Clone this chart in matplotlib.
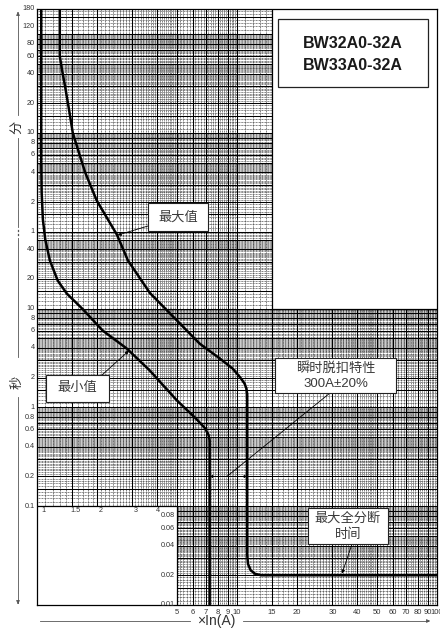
import numpy as np
import matplotlib
matplotlib.use("Agg")
import matplotlib.pyplot as plt
from matplotlib.patches import Rectangle
from matplotlib.collections import LineCollection
import matplotlib.transforms as mtransforms

plt.rcParams['font.family'] = ['Liberation Sans', 'Noto Sans CJK SC', 'DejaVu Sans']

# ---------------- data ----------------
# minimum tripping curve (multiple of In, seconds)
min_x = [1.05, 1.05, 1.055, 1.07, 1.10, 1.16, 1.27, 1.41, 1.70, 2.13, 2.81, 3.66, 5.0, 6.2, 6.9, 7.2, 7.3, 7.3]
min_t = [10800, 300, 150, 80, 50, 30.7, 19.2, 14.2, 9.8, 6.0, 3.95, 2.37, 1.18, 0.78, 0.62, 0.53, 0.46, 0.01]
# maximum tripping curve
max_x = [1.30, 1.30, 1.33, 1.38, 1.45, 1.51, 1.74, 1.99, 2.51, 2.85, 3.67, 6.5, 8.2, 9.5, 10.4, 10.9, 11.15, 11.25,
         11.25, 11.35, 11.7, 12.3, 13.2, 100]
max_t = [10800, 3600, 2700, 1800, 1000, 600, 240, 124, 56, 30.7, 14.4, 4.43, 3.13, 2.48, 2.0, 1.75, 1.55, 1.35,
         0.032, 0.026, 0.0225, 0.0207, 0.02, 0.02]

ylab_min = [180, 120, 80, 60, 40, 20, 10, 8, 6, 4, 2, 1]           # minutes
ylab_sec = [40, 20, 10, 8, 6, 4, 2, 1, 0.8, 0.6, 0.4, 0.2, 0.1]    # seconds
ylab_inner = [0.08, 0.06, 0.04, 0.02, 0.01]                         # seconds
xlab_inner = [1, 1.5, 2, 3, 4]
xlab_bottom = [5, 6, 7, 8, 9, 10, 15, 20, 30, 40, 50, 60, 70, 80, 90, 100]

title_lines = ["BW32A0-32A", "BW33A0-32A"]
inst_trip = (7.3, 11.25, 0.2)   # instantaneous trip band 300A±20% at 0.2 s

# ---------------- figure ----------------
W, H = 440, 631
fig = plt.figure(figsize=(W / 100, H / 100), dpi=100)
ax = fig.add_axes([37 / W, 1 - 605 / H, 400 / W, 596 / H])
ax.set_xscale('log')
ax.set_yscale('log')
ax.set_xlim(1, 100)
ax.set_ylim(0.01, 10800)
ax.set_xticks([]); ax.set_yticks([])
ax.minorticks_off()
ax.tick_params(which='both', length=0, labelleft=False, labelbottom=False)
for s in ax.spines.values():
    s.set_linewidth(0.9)
    s.set_color('black')

def P(x, y):
    return (x / W, 1 - y / H)

# graph paper grid
majm = [1, 1.5, 2, 3, 4, 5, 6, 7, 8, 9]
minm = [round(v, 2) for v in list(np.arange(1, 5, 0.1)) + list(np.arange(5, 10, 0.2))]
minm = [v for v in minm if not any(abs(v - m) < 1e-6 for m in majm)]

def vals(decades, mant, lo, hi):
    out = []
    for d in decades:
        for m in mant:
            v = d * m
            if lo < v < hi:
                out.append(v)
    return out

xmaj = vals([1, 10], majm, 1, 100)
xmin = vals([1, 10], minm, 1, 100)
ymaj = vals([0.01, 0.1, 1, 10], majm, 0.01, 60.01) + [60 * v for v in vals([1, 10, 100], majm, 1, 180)]
ymin = vals([0.01, 0.1, 1, 10], minm, 0.01, 60) + [60 * v for v in vals([1, 10, 100], minm, 1, 180)]

gc = '#3c3c3c'
ax.add_collection(LineCollection([[(x, 0.01), (x, 10800)] for x in xmin], colors=gc,
                                 linewidths=0.5, linestyles=(0, (1.3, 0.9)), zorder=1))
ax.add_collection(LineCollection([[(1, y), (100, y)] for y in ymin], colors=gc,
                                 linewidths=0.5, linestyles=(0, (1.3, 0.9)), zorder=1))
ax.add_collection(LineCollection([[(x, 0.01), (x, 10800)] for x in xmaj], colors='black',
                                 linewidths=0.75, zorder=2))
ax.add_collection(LineCollection([[(1, y), (100, y)] for y in ymaj], colors='black',
                                 linewidths=0.75, zorder=2))

# blank regions of the chart paper
ax.add_patch(Rectangle((1, 0.01), 4, 0.09, facecolor='white', edgecolor='black', lw=0.9, zorder=3))
ax.add_patch(Rectangle((15, 10), 85, 10790, facecolor='white', edgecolor='black', lw=0.9, zorder=3))

# curves
ax.plot(min_x, min_t, color='black', lw=1.8, zorder=5, solid_joinstyle='round')
ax.plot(max_x, max_t, color='black', lw=1.8, zorder=5, solid_joinstyle='round')

# tick labels
tc = '#333333'
tfs = 5.2
bl = mtransforms.blended_transform_factory(fig.transFigure, ax.transData)
for m in ylab_min:
    ax.text(35 / W, m * 60, f"{m:g}", transform=bl, ha='right', va='center', fontsize=tfs, color=tc)
for s in ylab_sec:
    ax.text(35 / W, s, f"{s:g}", transform=bl, ha='right', va='center', fontsize=tfs, color=tc)
for s in ylab_inner:
    ax.text(175 / W, s, f"{s:g}", transform=bl, ha='right', va='center', fontsize=tfs, color=tc, zorder=6)
bx = mtransforms.blended_transform_factory(ax.transData, fig.transFigure)
for v in xlab_inner:
    off = 6 if v == 1 else (1 if v == 4 else 3)
    ax.text(v, 1 - 510 / H, f"{v:g}", transform=mtransforms.offset_copy(bx, fig=fig, x=off, y=0, units='dots'),
            ha='center', va='center', fontsize=tfs, color=tc, zorder=6)
for v in xlab_bottom:
    ax.text(v, 1 - 612 / H, f"{v:g}", transform=bx, ha='center', va='center', fontsize=tfs + 0.3, color=tc,
            clip_on=False)

# axis titles
fig.text(*P(216, 621), "×In(A)", ha='center', va='center', fontsize=10, color='#333333')
gray = '#555555'
fig.add_artist(plt.Line2D([40 / W, 190 / W], [1 - 621 / H] * 2, color=gray, lw=0.6))
fig.add_artist(plt.Line2D([243 / W, 428 / W], [1 - 621 / H] * 2, color=gray, lw=0.6))
fig.patches.append(matplotlib.patches.FancyArrowPatch(P(425, 621), P(433, 621), arrowstyle='-|>',
                   mutation_scale=5, color=gray, lw=0.6, transform=fig.transFigure))
for y0, y1 in [(14, 115), (138, 227), (238, 357), (397, 603)]:
    fig.add_artist(plt.Line2D([18 / W] * 2, [1 - y0 / H, 1 - y1 / H], color=gray, lw=0.6))
for yd in [230.5, 234.5]:
    fig.add_artist(plt.Line2D([18 / W] * 2, [1 - (yd - 0.7) / H, 1 - (yd + 0.7) / H], color=gray, lw=0.9))
fig.patches.append(matplotlib.patches.FancyArrowPatch(P(18, 16), P(18, 9), arrowstyle='-|>',
                   mutation_scale=5, color=gray, lw=0.6, transform=fig.transFigure))
fig.patches.append(matplotlib.patches.FancyArrowPatch(P(18, 600), P(18, 607), arrowstyle='-|>',
                   mutation_scale=5, color=gray, lw=0.6, transform=fig.transFigure))
cjk = ['Noto Sans CJK SC', 'DejaVu Sans']
fig.text(*P(17, 127), "分", rotation=90, ha='center', va='center', fontsize=9.5, color='#333333', family=cjk)
fig.text(*P(17, 382), "秒", rotation=90, ha='center', va='center', fontsize=9.5, color='#333333', family=cjk)

# title box
ax.add_patch(Rectangle(P(278, 87), 150 / W, 68 / H, transform=fig.transFigure, facecolor='white',
                       edgecolor='#222222', lw=0.9, zorder=7))
fig.text(*P(353, 44), title_lines[0], ha='center', va='center', fontsize=11.5, fontweight='bold', color='#1a1a1a',
         family=['Liberation Sans'])
fig.text(*P(353, 65), title_lines[1], ha='center', va='center', fontsize=11.5, fontweight='bold', color='#1a1a1a',
         family=['Liberation Sans'])

# annotation boxes
def box(x0, y0, x1, y1, lines, ys, fs=9.5):
    ax.add_patch(Rectangle(P(x0, y1), (x1 - x0) / W, (y1 - y0) / H, transform=fig.transFigure,
                           facecolor='white', edgecolor='#222222', lw=0.8, zorder=8))
    for ln, yy in zip(lines, ys):
        fig.text(*P((x0 + x1) / 2, yy), ln, ha='center', va='center', fontsize=fs, color='#3a3a3a',
                 family=['Liberation Sans', 'Noto Sans CJK SC', 'DejaVu Sans'], zorder=9)

arr = dict(arrowstyle='-|>', lw=0.6, color='black', mutation_scale=5, shrinkA=0, shrinkB=0)
# 最大值
ax.annotate("", xy=(2.53, 55.5), xytext=P(148, 226), textcoords='figure fraction', arrowprops=arr, zorder=8)
box(148, 203, 208, 231, ["最大值"], [217])
# 最小值
ax.annotate("", xy=(2.88, 3.75), xytext=P(102, 375), textcoords='figure fraction', arrowprops=arr, zorder=8)
box(46, 375, 109, 402, ["最小值"], [388])
# 瞬时脱扣特性
ax.annotate("", xy=(inst_trip[0], inst_trip[2]), xytext=(inst_trip[1], inst_trip[2]),
            arrowprops=dict(arrowstyle='<|-|>', lw=0.6, color='black', mutation_scale=4, shrinkA=0, shrinkB=0),
            zorder=8)
ax.annotate("", xy=(8.9, 0.2), xytext=P(330, 393), textcoords='figure fraction',
            arrowprops=dict(arrowstyle='-', lw=0.6, color='black', shrinkA=0, shrinkB=0), zorder=8)
box(275, 358, 396, 393, ["瞬时脱扣特性", "300A±20%"], [368.5, 384])
# 最大全分断时间
ax.annotate("", xy=(33.5, 0.0208), xytext=P(352, 544), textcoords='figure fraction', arrowprops=arr, zorder=8)
box(308, 508, 388, 544, ["最大全分断", "时间"], [518.5, 535])

fig.savefig("out.png", dpi=100)
